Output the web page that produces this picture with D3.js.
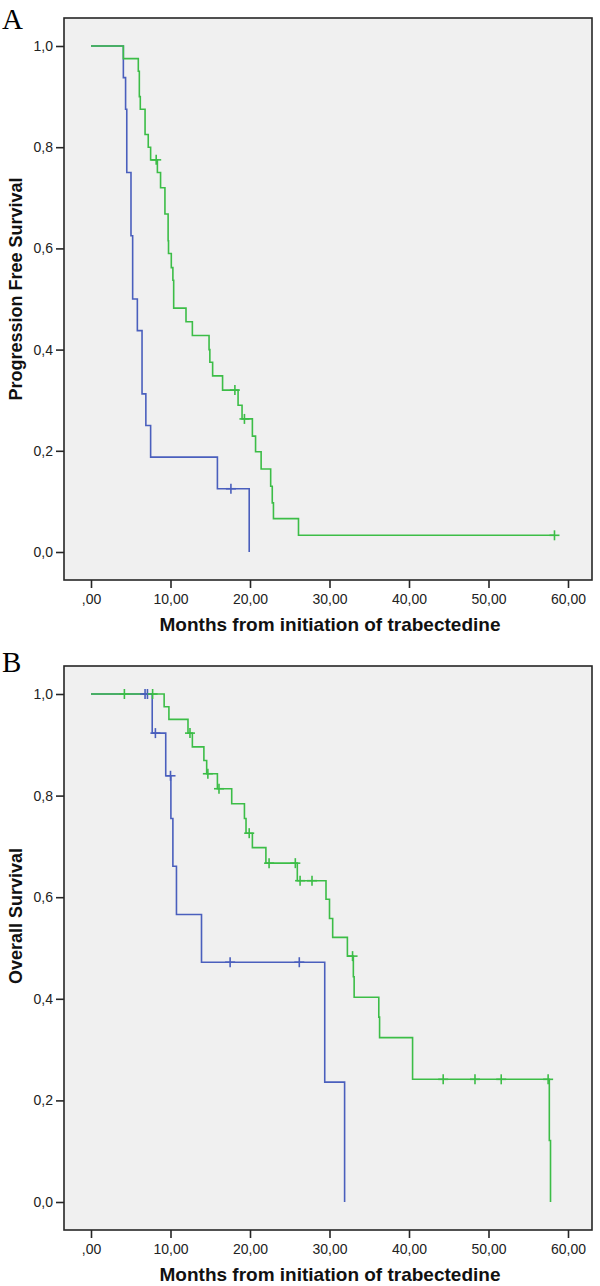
<!DOCTYPE html>
<html><head><meta charset="utf-8">
<script src="https://cdnjs.cloudflare.com/ajax/libs/d3/7.8.5/d3.min.js"></script>
<style>body{margin:0;background:#fff}svg{display:block}</style>
</head><body><svg id="c" width="600" height="1286"></svg>
<script>
// ---- axis ticks ----
const xTicks = [0, 10, 20, 30, 40, 50, 60];
const xTickLabels = [",00", "10,00", "20,00", "30,00", "40,00", "50,00", "60,00"];
const yTicks = [0, 0.2, 0.4, 0.6, 0.8, 1.0];
const yTickLabels = ["0,0", "0,2", "0,4", "0,6", "0,8", "1,0"];

// ---- Panel A: Progression free survival ----
const pfsBlueTime = [0, 4.07, 4.35, 4.5, 5.03, 5.24, 5.83, 6.42, 6.9, 7.5, 15.9, 19.9];
const pfsBlueSurv = [1, 0.9375, 0.875, 0.75, 0.625, 0.5, 0.4375, 0.3125, 0.25, 0.1875, 0.125, 0];
const pfsBlueCens = [17.6];

const pfsGreenTime = [0, 4.07, 5.95, 6.08, 6.2, 6.8, 7.2, 7.5, 8.35, 8.75, 9.3, 9.7, 9.75, 10.1, 10.3, 10.4, 11.95, 12.75, 14.85, 14.95, 15.3, 16.55, 18.5, 19.0, 20.3, 20.7, 21.4, 22.6, 22.8, 22.95, 26.1];
const pfsGreenSurv = [1, 0.975, 0.95, 0.90, 0.875, 0.825, 0.80, 0.775, 0.75, 0.72, 0.668, 0.615, 0.59, 0.562, 0.537, 0.482, 0.455, 0.428, 0.40, 0.375, 0.348, 0.32, 0.29, 0.263, 0.229, 0.198, 0.164, 0.13, 0.097, 0.066, 0.033];
const pfsGreenCens = [8.2, 18.1, 19.3, 58.3];

// ---- Panel B: Overall survival ----
const osBlueTime = [0, 7.7, 9.4, 10.05, 10.3, 10.75, 13.9, 29.4, 31.9];
const osBlueSurv = [1, 0.923, 0.839, 0.755, 0.661, 0.566, 0.472, 0.236, 0];
const osBlueCens = [6.8, 7.1, 8.1, 10.0, 17.5, 26.2];

const osGreenTime = [0, 9.2, 9.8, 12.2, 12.75, 14.2, 14.55, 15.9, 17.7, 19.3, 19.5, 20.3, 22.0, 25.95, 29.56, 30.0, 30.4, 32.25, 33.0, 33.1, 36.2, 36.3, 40.45, 57.65, 57.8];
const osGreenSurv = [1, 0.975, 0.95, 0.923, 0.896, 0.869, 0.843, 0.8135, 0.784, 0.755, 0.726, 0.6975, 0.667, 0.6325, 0.596, 0.558, 0.521, 0.484, 0.4435, 0.403, 0.364, 0.3235, 0.2415, 0.121, 0];
const osGreenCens = [4.2, 7.75, 12.45, 14.7, 16.1, 19.9, 22.4, 25.7, 26.3, 27.8, 32.9, 44.3, 48.3, 51.6, 57.5];

const blueColor = "#4a5fbd";
const greenColor = "#3cbd47";

const svg = d3.select("#c");

function panel(cfg) {
  const x = d3.scaleLinear().domain([0, 60]).range([91, 568]);
  const y = d3.scaleLinear().domain([0, 1]).range([cfg.y0, cfg.y1]);
  const g = svg.append("g");
  g.append("rect").attr("x", 64).attr("y", cfg.top).attr("width", 528).attr("height", cfg.bottom - cfg.top)
    .attr("fill", "#f0f0f0").attr("stroke", "none");

  function curve(times, surv, cens, color) {
    const pts = times.map((t, i) => [t, surv[i]]);
    const lastT = Math.max(times[times.length - 1], d3.max(cens) || 0);
    pts.push([lastT, surv[surv.length - 1]]);
    const line = d3.line().x(d => x(d[0])).y(d => y(d[1])).curve(d3.curveStepAfter);
    g.append("path").attr("d", line(pts)).attr("fill", "none").attr("stroke", color)
      .attr("stroke-width", 1.6);
  }
  function censors(times, surv, cens, color) {
    const sAt = t => { let s = 1; times.forEach((tt, i) => { if (tt <= t) s = surv[i]; }); return s; };
    const gg = g.append("g").attr("stroke", color).attr("stroke-width", 1.6);
    cens.forEach(t => {
      const cx = x(t), cy = y(sAt(t));
      gg.append("line").attr("x1", cx).attr("x2", cx).attr("y1", cy - 5).attr("y2", cy + 5);
      gg.append("line").attr("x1", cx - 5).attr("x2", cx + 5).attr("y1", cy).attr("y2", cy);
    });
  }
  curve(cfg.bT, cfg.bS, cfg.bC, blueColor);
  curve(cfg.gT, cfg.gS, cfg.gC, greenColor);
  censors(cfg.bT, cfg.bS, cfg.bC, blueColor);
  censors(cfg.gT, cfg.gS, cfg.gC, greenColor);

  g.append("rect").attr("x", 64).attr("y", cfg.top).attr("width", 528).attr("height", cfg.bottom - cfg.top)
    .attr("fill", "none").attr("stroke", "#262626").attr("stroke-width", 1.6);

  const yAxis = d3.axisLeft(y).tickValues(yTicks).tickFormat((d, i) => yTickLabels[i]).tickSize(8).tickPadding(3);
  const ya = g.append("g").attr("transform", "translate(64,0)").call(yAxis);
  const xAxis = d3.axisBottom(x).tickValues(xTicks).tickFormat((d, i) => xTickLabels[i]).tickSize(8).tickPadding(6);
  const xa = g.append("g").attr("transform", `translate(0,${cfg.bottom})`).call(xAxis);
  [ya, xa].forEach(a => {
    a.select(".domain").remove();
    a.selectAll(".tick line").attr("stroke", "#262626").attr("stroke-width", 1.6);
    a.selectAll(".tick text").attr("fill", "#222").style("font-family", "'Liberation Sans', Arial, sans-serif").style("font-size", "14px");
  });
  g.append("text").attr("x", 330).attr("y", cfg.bottom + 51).attr("text-anchor", "middle")
    .style("font-family", "'Liberation Sans', Arial, sans-serif").style("font-size", "19px").style("font-weight", "bold")
    .attr("fill", "#111").text("Months from initiation of trabectedine");
  g.append("text").attr("transform", `translate(22,${cfg.ytc}) rotate(-90)`).attr("text-anchor", "middle")
    .style("font-family", "'Liberation Sans', Arial, sans-serif").style("font-size", "18px").style("font-weight", "bold")
    .attr("fill", "#111").text(cfg.ytitle);
  g.append("text").attr("x", 2).attr("y", cfg.letterY)
    .style("font-family", "'Liberation Serif', 'Times New Roman', serif").style("font-size", "29px")
    .attr("fill", "#000").text(cfg.letter);
}

panel({top: 18, bottom: 580, y0: 552, y1: 46, ytc: 289, ytitle: "Progression Free Survival", letter: "A", letterY: 29,
  bT: pfsBlueTime, bS: pfsBlueSurv, bC: pfsBlueCens, gT: pfsGreenTime, gS: pfsGreenSurv, gC: pfsGreenCens});
panel({top: 666, bottom: 1230, y0: 1202, y1: 694, ytc: 916, ytitle: "Overall Survival", letter: "B", letterY: 672,
  bT: osBlueTime, bS: osBlueSurv, bC: osBlueCens, gT: osGreenTime, gS: osGreenSurv, gC: osGreenCens});
</script></body></html>
